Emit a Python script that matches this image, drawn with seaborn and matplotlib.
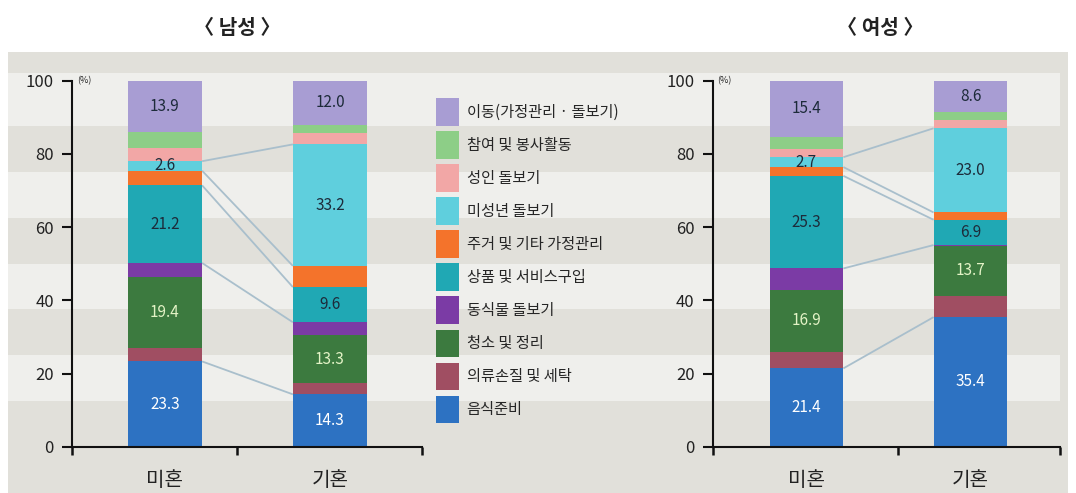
import numpy as np
import pandas as pd
import matplotlib
matplotlib.use("Agg")
import matplotlib.pyplot as plt
from matplotlib.patches import Rectangle, Patch
from matplotlib.transforms import blended_transform_factory
import seaborn as sns

# ---- data (stack order: top to bottom) ----
categories = ['이동(가정관리 · 돌보기)', '참여 및 봉사활동', '성인 돌보기', '미성년 돌보기',
              '주거 및 기타 가정관리', '상품 및 서비스구입', '동식물 돌보기', '청소 및 정리',
              '의류손질 및 세탁', '음식준비']
statuses = ['미혼', '기혼']
male_single = [13.9, 4.6, 3.5, 2.6, 4.0, 21.2, 3.7, 19.4, 3.8, 23.3]
male_married = [12.0, 2.4, 3.0, 33.2, 5.8, 9.6, 3.4, 13.3, 3.0, 14.3]
female_single = [15.4, 3.3, 2.2, 2.7, 2.4, 25.3, 5.8, 16.9, 4.6, 21.4]
female_married = [8.6, 2.2, 2.2, 23.0, 2.0, 6.9, 0.2, 13.7, 5.8, 35.4]
panel_titles = ['〈 남성 〉', '〈 여성 〉']

colors = ['#a89dd3', '#8dce87', '#f2a7a6', '#5fcfdd', '#f4732b',
          '#20a8b4', '#7b3ba5', '#3c7a3f', '#a04e62', '#2d72c2']
palette = dict(zip(categories, colors))

# segments that carry a value label, and the label colour
label_colors = {
    '이동(가정관리 · 돌보기)': '#1d2b3a',
    '미성년 돌보기': '#1d2b3a',
    '상품 및 서비스구입': '#1d2b3a',
    '청소 및 정리': '#e3f3c6',
    '음식준비': 'white',
}
# segment edges joined between the two bars
link_edges = [('음식준비', 'top'), ('상품 및 서비스구입', 'bottom'),
              ('상품 및 서비스구입', 'top'), ('미성년 돌보기', 'bottom'),
              ('미성년 돌보기', 'top')]

sns.set_style('ticks')
plt.rcParams['font.family'] = ['Noto Sans CJK KR', 'DejaVu Sans']

fig = plt.figure(figsize=(10.76, 4.93), dpi=100)
fig.patch.set_facecolor('white')

BAND_DARK = '#e1e0da'
BAND_LIGHT = '#efefec'
W, H = 1076, 493

# grey panel behind everything
fig.patches.append(Rectangle((8 / W, 0), 1060 / W, 1 - 52 / H, transform=fig.transFigure,
                             facecolor=BAND_DARK, edgecolor='none', zorder=-10))

ax_l = fig.add_axes([72 / W, 1 - 446.7 / H, 350 / W, 366 / H])
ax_r = fig.add_axes([712.7 / W, 1 - 446.7 / H, 347.3 / W, 366 / H])

# light stripes in data units of the y scale
btr = blended_transform_factory(fig.transFigure, ax_l.transData)
for lo, hi in [(87.5, 102), (62.5, 75), (37.5, 50), (12.5, 25)]:
    fig.patches.append(Rectangle((8 / W, lo), 1052 / W, hi - lo, transform=btr,
                                 facecolor=BAND_LIGHT, edgecolor='none', zorder=-9))

panels = [
    (ax_l, male_single, male_married, (-0.5636, 1.5576), 0.436, 237),
    (ax_r, female_single, female_married, (-0.572, 1.546), 0.56, 880),
]
bar_w = 0.45

for (ax, single, married, xlim, midtick, title_x), title in zip(panels, panel_titles):
    df = pd.DataFrame({
        'status': np.repeat(statuses, len(categories)),
        'category': categories * 2,
        'value': single + married,
    })
    sns.histplot(data=df, x='status', hue='category', hue_order=categories,
                 weights='value', multiple='stack', discrete=True, shrink=bar_w,
                 palette=palette, alpha=1, linewidth=0, legend=False, ax=ax)
    ax.set_facecolor('none')
    ax.set_xlim(*xlim)
    ax.set_ylim(0, 100)
    ax.set_xlabel('')
    ax.set_ylabel('')

    # segment bottoms/tops from the data
    edges = {}
    for xi, vals in enumerate([single, married]):
        v_bottom_up = vals[::-1]
        tops = np.cumsum(v_bottom_up)
        bottoms = tops - np.array(v_bottom_up)
        for cat, b, t, v in zip(categories[::-1], bottoms, tops, v_bottom_up):
            edges[(xi, cat)] = (b, t)
            if cat in label_colors:
                ax.text(xi, (b + t) / 2, f'{v:.1f}', ha='center', va='center',
                        fontsize=11, color=label_colors[cat], zorder=5)

    for cat, side in link_edges:
        k = 0 if side == 'bottom' else 1
        y0 = edges[(0, cat)][k]
        y1 = edges[(1, cat)][k]
        ax.plot([bar_w / 2, 1 - bar_w / 2], [y0, y1], color='#a9bfcc', lw=1.3,
                zorder=0.5, solid_capstyle='butt')

    sns.despine(ax=ax)
    for s in ['left', 'bottom']:
        ax.spines[s].set_linewidth(1.5)
        ax.spines[s].set_color('#111111')
    ax.set_yticks([0, 20, 40, 60, 80, 100])
    ax.tick_params(axis='y', direction='out', length=7, width=1.5, pad=6,
                   labelsize=12, colors='#111111', labelcolor='#222222')
    ax.set_xticks([0, 1])
    ax.set_xticklabels(statuses)
    ax.tick_params(axis='x', which='major', length=0, pad=17, labelsize=14.5,
                   labelcolor='#222222')
    ax.set_xticks([xlim[0], midtick, xlim[1]], minor=True)
    ax.tick_params(axis='x', which='minor', direction='out', length=6, width=1.8,
                   color='#111111')
    ax.text(0.014, 1.0, '(%)', transform=ax.transAxes, fontsize=6.5,
            va='center', ha='left', color='#222222')

    fig.text(title_x / W, 1 - 28 / H, title, ha='center', va='center',
             fontsize=14.5, fontweight='bold', color='#222222')

handles = [Patch(facecolor=c, edgecolor='none') for c in colors]
fig.legend(handles, categories, loc='upper left',
           bbox_to_anchor=(436 / W, 1 - 98 / H), bbox_transform=fig.transFigure,
           frameon=False, fontsize=11, handlelength=1.5, handleheight=2.4,
           handletextpad=0.5, labelspacing=0.36, borderpad=0, borderaxespad=0)

fig.savefig('out.png', dpi=100, facecolor=fig.get_facecolor())
